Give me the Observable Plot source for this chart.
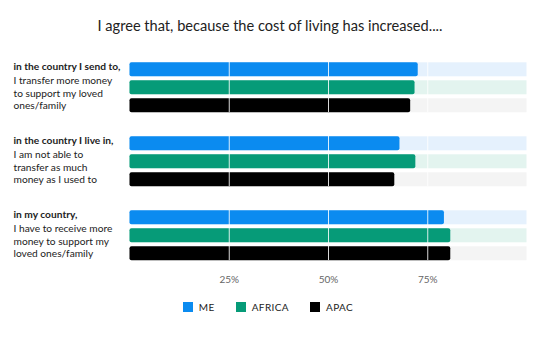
<!DOCTYPE html>
<html><head><meta charset="utf-8">
<script src="https://cdn.jsdelivr.net/npm/d3@7"></script>
<script src="https://cdn.jsdelivr.net/npm/@observablehq/plot@0.6"></script>
<style>
body{margin:0;background:#fff;font-family:Lato,"Noto Sans",sans-serif;color:#222;}
#wrap{width:540px;height:360px;overflow:hidden;}
#title{height:52px;line-height:52px;text-align:center;font-size:14.6px;color:#222;}
#legend{display:flex;justify-content:center;align-items:center;gap:21px;margin-top:10px;height:10px;font-size:10px;letter-spacing:0.4px;color:#222;padding-right:4px;}
#legend .item{display:flex;align-items:center;gap:6px;}
#legend .sw{width:10px;height:10px;display:inline-block;}
</style></head><body>
<div id="wrap"><div id="title"></div><div id="chart"></div><div id="legend"></div></div>
<script>
const title = "I agree that, because the cost of living has increased....";
const statements = ["in the country I send to,", "in the country I live in,", "in my country,"];
const details = [
  "I transfer more money\nto support my loved\nones/family",
  "I am not able to\ntransfer as much\nmoney as I used to",
  "I have to receive more\nmoney to support my\nloved ones/family"
];
const regions = ["ME", "AFRICA", "APAC"];
const regionColors = ["#0b8bf0", "#069b78", "#000000"];
const regionBg = ["#e5f1fd", "#e3f4ef", "#f4f4f4"];
const me = [72.6, 68.0, 79.2];
const africa = [71.8, 72.0, 80.8];
const apac = [70.7, 66.7, 80.8];
const tickValues = [25, 50, 75];

const seriesValues = [me, africa, apac];
const rows = [];
statements.forEach((s, i) => regions.forEach((r, j) => rows.push({statement: s, region: r, value: seriesValues[j][i], color: regionColors[j], bg: regionBg[j]})));
const labelRows = statements.map((s, i) => ({statement: s, detail: details[i]}));

document.getElementById("title").textContent = title;

const chart = Plot.plot({
  width: 540,
  height: 240,
  marginTop: 9.7,
  marginBottom: 31.3,
  marginLeft: 129.5,
  marginRight: 13.5,
  style: {fontFamily: "Lato, 'Noto Sans', sans-serif", fontSize: "10px", color: "#222", background: "white"},
  x: {domain: [0, 100], label: null, axis: null},
  y: {domain: regions, paddingInner: 0.235, paddingOuter: 0, axis: null, label: null},
  fy: {domain: statements, paddingInner: 0.318, paddingOuter: 0, axis: null, label: null},
  marks: [
    Plot.barX(rows, {x1: d => 0, x2: d => 100, y: "region", fy: "statement", fill: "bg"}),
    Plot.barX(rows, {x1: d => 0, x2: "value", y: "region", fy: "statement", fill: "color", rx: 2}),
    Plot.ruleX(tickValues, {x: d => d, stroke: "white", strokeOpacity: 0.85, strokeWidth: 1}),
    Plot.text(labelRows, {fy: "statement", text: "statement", frameAnchor: "top-left", textAnchor: "start", lineAnchor: "top", fontWeight: "bold", dx: -116.5, dy: 0.5, fontSize: 10.2, fill: "#222"}),
    Plot.text(labelRows, {fy: "statement", text: "detail", frameAnchor: "top-left", textAnchor: "start", lineAnchor: "top", lineHeight: 1.23, dx: -116.5, dy: 13, fontSize: 10.2, fill: "#222"}),
    Plot.axisX({ticks: tickValues, tickSize: 0, tickPadding: 15, tickFormat: d => d + "%", fontSize: 10, color: "#666", label: null})
  ]
});
document.getElementById("chart").appendChild(chart);

const legend = document.getElementById("legend");
regions.forEach((r, j) => {
  const item = document.createElement("span");
  item.className = "item";
  const sw = document.createElement("span");
  sw.className = "sw";
  sw.style.background = regionColors[j];
  const t = document.createElement("span");
  t.textContent = r;
  item.appendChild(sw); item.appendChild(t);
  legend.appendChild(item);
});
</script>
</body></html>
